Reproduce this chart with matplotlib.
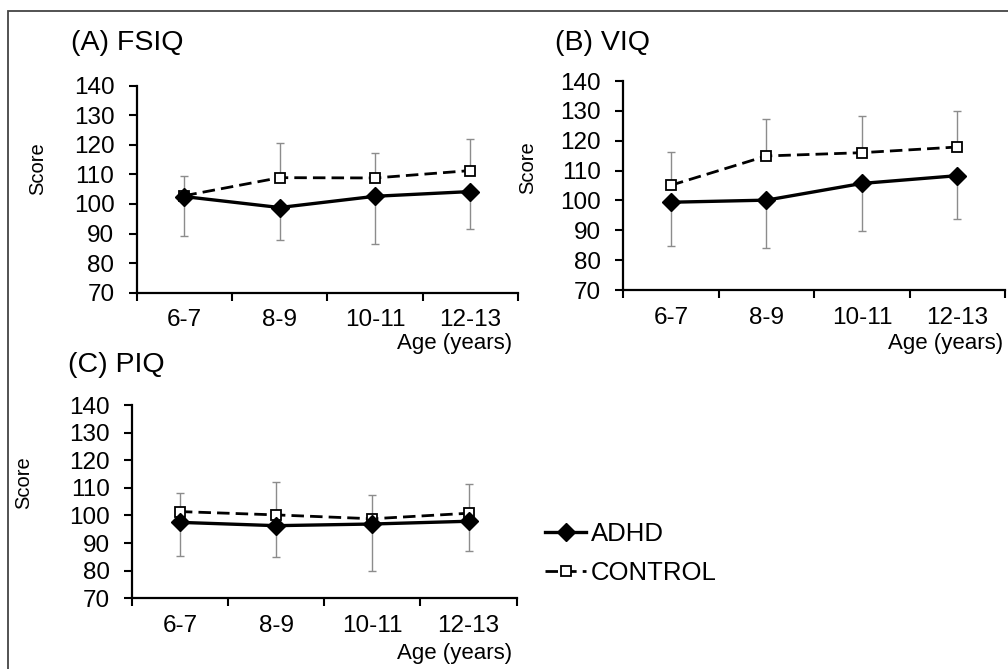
import matplotlib
matplotlib.use("Agg")
import matplotlib.pyplot as plt
from matplotlib.patches import Rectangle

plt.rcParams['font.family'] = ['Liberation Sans', 'DejaVu Sans']

# data (mean, SD)
ages = ["6-7", "8-9", "10-11", "12-13"]

fsiq_adhd = [102.5, 98.8, 102.6, 104.2]
fsiq_adhd_sd = [13.4, 11.1, 16.3, 12.5]
fsiq_ctrl = [102.8, 108.9, 108.8, 111.3]
fsiq_ctrl_sd = [6.8, 11.8, 8.6, 10.6]

viq_adhd = [99.4, 100.1, 105.7, 108.3]
viq_adhd_sd = [14.6, 16.0, 15.8, 14.6]
viq_ctrl = [105.1, 114.9, 116.0, 117.9]
viq_ctrl_sd = [11.0, 12.5, 12.4, 12.1]

piq_adhd = [97.5, 96.3, 96.9, 97.9]
piq_adhd_sd = [12.1, 11.2, 17.0, 10.9]
piq_ctrl = [101.4, 100.2, 98.8, 100.8]
piq_ctrl_sd = [6.9, 11.8, 8.6, 10.7]

y_ticks = [70, 80, 90, 100, 110, 120, 130, 140]

fig = plt.figure(figsize=(10.08, 6.69), dpi=100)

# outer frame
fig.patches.append(Rectangle((8 / 1008, -0.05), 1.1, 1 - 11 / 669 + 0.05,
                             transform=fig.transFigure, fill=False,
                             edgecolor='#444444', linewidth=1.3))


def draw_panel(rect, title, title_xy, adhd, adhd_sd, ctrl, ctrl_sd,
               ylabel_xy, age_xy):
    ax = fig.add_axes(rect)
    x = list(range(len(ages)))

    # one-sided error bars: ADHD downwards, CONTROL upwards
    ax.errorbar(x, adhd, yerr=[adhd_sd, [0] * len(adhd)], fmt='none',
                ecolor='#8c8c8c', elinewidth=1.0, capsize=3, capthick=1.0,
                zorder=1)
    ax.errorbar(x, ctrl, yerr=[[0] * len(ctrl), ctrl_sd], fmt='none',
                ecolor='#8c8c8c', elinewidth=1.0, capsize=3, capthick=1.0,
                zorder=1)

    ax.plot(x, ctrl, linestyle=(0, (4.5, 2.2)), color='black', linewidth=2.0,
            marker='s', markersize=6.5, markerfacecolor='white',
            markeredgecolor='black', markeredgewidth=1.3, zorder=3,
            label='CONTROL')
    ax.plot(x, adhd, linestyle='-', color='black', linewidth=2.4,
            marker='D', markersize=9, markerfacecolor='black',
            markeredgecolor='black', zorder=4, label='ADHD')

    ax.set_xlim(-0.5, 3.5)
    ax.set_ylim(70, 140)
    ax.set_yticks(y_ticks)
    ax.set_xticks(x)
    ax.set_xticklabels(ages)
    ax.set_xticks([-0.5, 0.5, 1.5, 2.5, 3.5], minor=True)
    ax.tick_params(axis='x', which='major', length=0, pad=12, labelsize=17.5)
    ax.tick_params(axis='x', which='minor', length=6, width=1.5,
                   direction='out')
    ax.tick_params(axis='y', length=6, width=1.5, direction='out', pad=10,
                   labelsize=17.5)

    for side in ['top', 'right']:
        ax.spines[side].set_visible(False)
    for side in ['left', 'bottom']:
        ax.spines[side].set_linewidth(1.6)

    ax.set_ylabel("Score", fontsize=14.5)
    ax.yaxis.set_label_coords(*ylabel_xy)

    fig.text(title_xy[0], title_xy[1], title, fontsize=20.5,
             ha='left', va='center')
    fig.text(age_xy[0], age_xy[1], "Age (years)", fontsize=16,
             ha='right', va='center')
    return ax


draw_panel([0.1356, 0.5625, 0.3783, 0.3094], "(A) FSIQ",
           (71 / 1008, 1 - 43 / 669),
           fsiq_adhd, fsiq_adhd_sd, fsiq_ctrl, fsiq_ctrl_sd,
           (-0.235, 0.60), (512 / 1008, 1 - 343 / 669))

draw_panel([0.6184, 0.5665, 0.3787, 0.3124], "(B) VIQ",
           (555 / 1008, 1 - 43 / 669),
           viq_adhd, viq_adhd_sd, viq_ctrl, viq_ctrl_sd,
           (-0.227, 0.584), (1003 / 1008, 1 - 343 / 669))

ax_c = draw_panel([0.1307, 0.1057, 0.3819, 0.2889], "(C) PIQ",
                  (68 / 1008, 1 - 365 / 669),
                  piq_adhd, piq_adhd_sd, piq_ctrl, piq_ctrl_sd,
                  (-0.256, 0.596), (512 / 1008, 1 - 653 / 669))

handles, labels = ax_c.get_legend_handles_labels()
fig.legend(handles[::-1], labels[::-1], loc='center left',
           bbox_to_anchor=(545 / 1008, 1 - 553.5 / 669),
           frameon=False, fontsize=18.5, handlelength=1.6,
           handletextpad=0.2, labelspacing=0.6, borderpad=0,
           borderaxespad=0)

fig.savefig("out.png", dpi=100)
